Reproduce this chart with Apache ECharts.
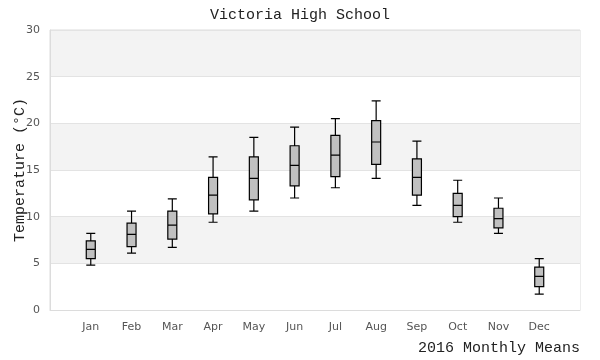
<!DOCTYPE html>
<html>
<head>
<meta charset="utf-8">
<script src="https://cdn.jsdelivr.net/npm/echarts@6/dist/echarts.min.js"></script>
<style>
    html, body { margin: 0; padding: 0; background: #fff; }
    #chart { width: 600px; height: 360px; }
</style>
</head>
<body>
<div id="chart"></div>
<script>
// ============================================
// 数据
// ============================================

const months = ['Jan', 'Feb', 'Mar', 'Apr', 'May', 'Jun', 'Jul', 'Aug', 'Sep', 'Oct', 'Nov', 'Dec'];
const lowVals    = [4.8, 6.1, 6.7, 9.4, 10.6, 12.0, 13.1, 14.1, 11.2, 9.4, 8.2, 1.7];
const q1Vals     = [5.5, 6.8, 7.6, 10.3, 11.8, 13.3, 14.3, 15.6, 12.3, 10.0, 8.8, 2.5];
const medianVals = [6.5, 8.1, 9.1, 12.3, 14.1, 15.5, 16.6, 18.0, 14.2, 11.2, 9.8, 3.6];
const q3Vals     = [7.4, 9.3, 10.6, 14.2, 16.4, 17.6, 18.7, 20.3, 16.2, 12.5, 10.9, 4.6];
const highVals   = [8.2, 10.6, 11.9, 16.4, 18.5, 19.6, 20.5, 22.4, 18.1, 13.9, 12.0, 5.5];

// 两端各留一个空位，使月份落在 1..12
const categories = [''].concat(months, ['']);

const boxData = months.map((m, i) => [
    i + 1, lowVals[i], q1Vals[i], medianVals[i], q3Vals[i], highVals[i]
]);

// ============================================
// 图表
// ============================================

const monoFont = '"Liberation Mono", "DejaVu Sans Mono", monospace';
const chart = echarts.init(document.getElementById('chart'));

chart.setOption({
    backgroundColor: '#fff',
    animation: false,
    title: {
        text: 'Victoria High School',
        left: 'center',
        top: 3,
        textStyle: { fontFamily: monoFont, fontSize: 15, fontWeight: 'normal', color: '#222' }
    },
    grid: {
        left: 50, right: 20, top: 30, bottom: 50,
        outerBoundsMode: 'none',
        containLabel: false,
        show: true,
        borderColor: '#dcdcdc',
        borderWidth: 1
    },
    xAxis: {
        type: 'category',
        data: categories,
        boundaryGap: false,
        name: '2016 Monthly Means',
        nameLocation: 'end',
        nameGap: 0,
        nameMoveOverlap: false,
        nameTextStyle: {
            fontFamily: monoFont, fontSize: 15, color: '#222',
            align: 'right', verticalAlign: 'top', padding: [31, 0, 0, 0]
        },
        axisLine: { lineStyle: { color: '#dcdcdc' } },
        axisTick: { show: false },
        axisLabel: { color: '#555', fontSize: 11, fontFamily: 'DejaVu Sans', margin: 12, interval: 0 },
        splitLine: { show: false }
    },
    yAxis: {
        type: 'value',
        min: 0,
        max: 30,
        interval: 5,
        name: 'Temperature (°C)',
        nameLocation: 'middle',
        nameGap: 22,
        nameMoveOverlap: false,
        nameTextStyle: { fontFamily: monoFont, fontSize: 15, color: '#222' },
        axisLine: { show: true, lineStyle: { color: '#dcdcdc' } },
        axisTick: { show: false },
        axisLabel: { color: '#555', fontSize: 11, fontFamily: 'DejaVu Sans', margin: 10 },
        splitLine: { lineStyle: { color: '#e3e3e3' } },
        splitArea: { show: true, areaStyle: { color: ['#ffffff', '#f3f3f3'] } }
    },
    series: [{
        type: 'boxplot',
        data: boxData,
        encode: { x: 0, y: [1, 2, 3, 4, 5] },
        boxWidth: [9, 9],
        itemStyle: { color: '#c0c0c0', borderColor: '#000', borderWidth: 1.2 }
    }]
});
</script>
</body>
</html>
